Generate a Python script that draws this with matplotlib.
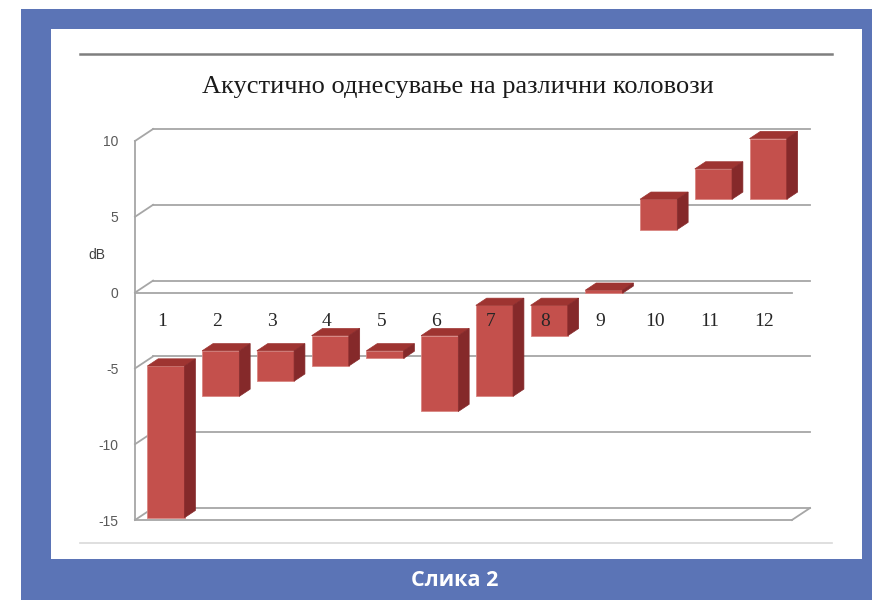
import matplotlib.pyplot as plt
from matplotlib.patches import Rectangle, Polygon

# Данни
categories = ['1', '2', '3', '4', '5', '6', '7', '8', '9', '10', '11', '12']
bar_bottom = [-15, -7, -6, -5, -4.5, -8, -7, -3, -0.2, 4, 6, 6]
bar_top = [-5, -4, -4, -3, -4, -3, -1, -1, 0, 6, 8, 10]
y_ticks = [10, 5, 0, -5, -10, -15]
title = 'Акустично однесување на различни коловози'
y_label = 'dB'
caption = 'Слика 2'

W, H = 872, 600
fig = plt.figure(figsize=(W / 100, H / 100), dpi=100)


def fx(px):
    return px / W


def fy(py):
    return 1 - py / H


blue = '#5B74B6'
grid_col = '#A6A6A6'

# рамка
fig.patches.append(Rectangle((fx(21), 0), 1 - fx(21), fy(9), transform=fig.transFigure,
                             facecolor=blue, edgecolor='none', zorder=0))
fig.patches.append(Rectangle((fx(51), fy(559)), fx(862) - fx(51), fy(29) - fy(559),
                             transform=fig.transFigure, facecolor='white', edgecolor='none', zorder=0))
fig.add_artist(plt.Line2D([fx(80), fx(832)], [fy(54), fy(54)], color='#7F7F7F', lw=1.8,
                          transform=fig.transFigure))
fig.add_artist(plt.Line2D([fx(80), fx(832)], [fy(543), fy(543)], color='#D9D9D9', lw=1.2,
                          transform=fig.transFigure))

# оски
DX, DY = 0.33, 0.79
ax = fig.add_axes([fx(135), fy(520), 675 / W, 391 / H])
ax.set_zorder(5)
ax.set_xlim(0.5, 12.5 + DX)
ax.set_ylim(-15, 10 + DY)
ax.patch.set_alpha(0)
for s in ax.spines.values():
    s.set_visible(False)
ax.set_xticks([])
ax.set_yticks(y_ticks)
ax.set_yticklabels([str(v) for v in y_ticks], fontfamily='Liberation Sans')
ax.tick_params(axis='y', length=0, pad=12, labelsize=10, labelcolor='#595959')

# мрежа и ѕидови
for v in y_ticks:
    ax.plot([0.5 + DX, 12.5 + DX], [v + DY, v + DY], color=grid_col, lw=1.3, clip_on=False, zorder=1)
    ax.plot([0.5, 0.5 + DX], [v, v + DY], color=grid_col, lw=1.3, clip_on=False, zorder=1)
ax.plot([0.5, 0.5], [-15, 10], color=grid_col, lw=1.3, clip_on=False, zorder=1)
ax.plot([0.5, 12.5], [0, 0], color=grid_col, lw=1.3, clip_on=False, zorder=1)
ax.plot([0.5, 12.5], [-15, -15], color=grid_col, lw=1.3, clip_on=False, zorder=1)
ax.plot([12.5, 12.5 + DX], [-15, -15 + DY], color=grid_col, lw=1.3, clip_on=False, zorder=1)

# столбови
w = 0.68
f0, f1 = 0.2, 0.8
ddx, ddy = (f1 - f0) * DX, (f1 - f0) * DY
for i, (b, t) in enumerate(zip(bar_bottom, bar_top)):
    c = i + 1
    xl = c - w / 2 + f0 * DX
    xr = xl + w
    yb = b + f0 * DY
    yt = t + f0 * DY
    ax.add_patch(Rectangle((xl, yb), w, yt - yb, facecolor='#C4504C', edgecolor='#D98682',
                           lw=0.6, zorder=3, clip_on=False))
    ax.add_patch(Polygon([(xl, yt), (xr, yt), (xr + ddx, yt + ddy), (xl + ddx, yt + ddy)],
                         facecolor='#9E3431', edgecolor='#9E3431', lw=0.5, zorder=3, clip_on=False))
    ax.add_patch(Polygon([(xr, yb), (xr + ddx, yb + ddy), (xr + ddx, yt + ddy), (xr, yt)],
                         facecolor='#85292A', edgecolor='#85292A', lw=0.5, zorder=3, clip_on=False))

for i, cat in enumerate(categories):
    ax.text(i + 1, -1.9, cat, ha='center', va='center', fontsize=14,
            fontfamily='Liberation Serif', color='#262626', zorder=5)

fig.text(fx(97), fy(255), y_label, ha='center', va='center', fontsize=10,
         fontfamily='Liberation Sans', color='#404040')
fig.text(fx(458), fy(87), title, ha='center', va='center', fontsize=19,
         fontfamily='Liberation Serif', color='#1A1A1A')
fig.text(fx(455), fy(581), caption, ha='center', va='center', fontsize=15.5,
         fontweight='bold', fontfamily='Open Sans', color='white')

fig.savefig('out.png', dpi=100)
